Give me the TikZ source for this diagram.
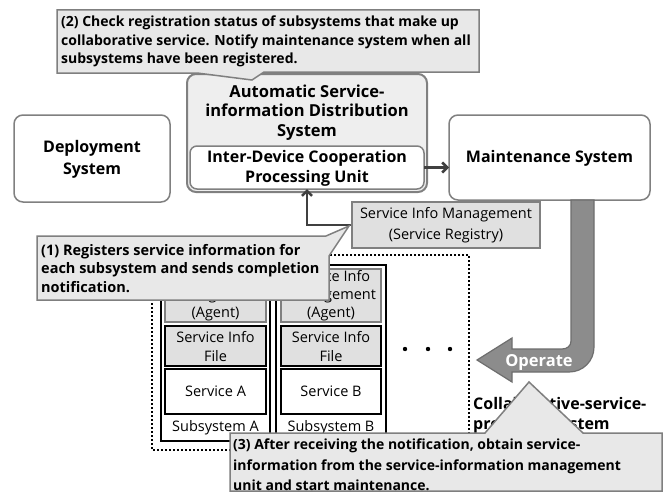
\documentclass[tikz,border=0pt]{standalone}
\usepackage{fontspec}
\setmainfont{Open Sans}
\usetikzlibrary{arrows.meta}
\definecolor{callfill}{HTML}{E8E8E8}
\definecolor{callline}{HTML}{7F7F7F}
\definecolor{boxline}{HTML}{808080}
\definecolor{grayfill}{HTML}{E0E0E0}
\definecolor{asfill}{HTML}{EEEEEE}
\definecolor{darkarrow}{HTML}{404040}
\definecolor{opfill}{HTML}{8C8C8C}
\definecolor{opline}{HTML}{6E6E6E}
\newcommand{\bsz}[2]{\fontsize{#1}{#2}\selectfont\bfseries}
\newcommand{\nsz}[2]{\fontsize{#1}{#2}\selectfont}
\tikzset{
  sysbox/.style={draw=boxline, line width=1.5pt, rounded corners=9pt, fill=white},
  callout/.style={draw=callline, line width=1.5pt, fill=callfill},
  plain/.style={inner sep=0pt, align=center},
  agentbox/.style={draw=boxline, line width=1.5pt, fill=grayfill},
  filebox/.style={draw=black, line width=2pt, fill=grayfill},
  svcbox/.style={draw=black, line width=2pt, fill=white},
  subbox/.style={draw=black, line width=1.6pt, fill=white},
  conn/.style={draw=darkarrow, line width=2.5pt, -{Straight Barb[length=5pt,width=10pt]}},
}
\begin{document}
\begin{tikzpicture}[x=1pt,y=-1pt]
\useasboundingbox (0,0) rectangle (671,495);
\fill[white] (0,0) rectangle (671,495);

% Deployment system
\draw[sysbox] (14,115) rectangle (170,202);
\node[plain, font=\bsz{16}{22}] (deploy) at (92,159) {Deployment\\System};

% Maintenance system
\draw[sysbox] (449,115) rectangle (650,200);
\node[plain, font=\bsz{16}{22}] (maint) at (549.5,158) {Maintenance System};
\coordinate (maintW) at (449,168);

% Automatic Service-information Distribution System
\draw[draw=boxline, line width=2pt, rounded corners=9pt, fill=asfill] (187,74) rectangle (427,192);
\node[plain, font=\bsz{16.5}{19.5}] (asids) at (307,112.5) {Automatic Service-\\information Distribution\\System};
\draw[draw=boxline, line width=1.5pt, rounded corners=7pt, fill=white] (190,146) rectangle (424,189);
\node[plain, minimum width=234pt, minimum height=43pt] (ipu) at (307,167.5) {};
\node[plain, font=\bsz{16}{20}] (ipulabel) at (307,168) {Inter-Device Cooperation\\Processing Unit};

% Service Info Management (Service Registry)
\node[draw=boxline, line width=1.5pt, fill=grayfill, minimum width=188pt, minimum height=46pt, inner sep=0pt, align=center, font=\nsz{14.5}{21}] (sim) at (446,225) {Service Info Management\\(Service Registry)};

% connectors
\draw[conn] (ipu.east) -- (ipu.east -| maintW);
\draw[conn] (sim.west) -| (ipu.south);

% Collaborative-service-providing system (dotted)
\draw[black, line width=2pt, dash pattern=on 2pt off 2pt] (152,255) rectangle (469,450);
\node[plain, align=left, anchor=west, font=\bsz{16}{20}] (collab) at (473,415) {Collaborative-service-\\providing system};

% Subsystem A
\draw[subbox] (161,265) rectangle (270,441);
\draw[agentbox] (165,269) rectangle (266,322);
\node[plain, font=\nsz{14.5}{18}] (agentA) at (215.5,296) {Service Info\\Management\\(Agent)};
\draw[filebox] (165,326) rectangle (266,366);
\node[plain, font=\nsz{14.5}{19}] (fileA) at (215.5,346.5) {Service Info\\File};
\draw[svcbox] (165,369) rectangle (266,414);
\node[plain, font=\nsz{14.5}{19}] (svcA) at (215.5,391.5) {Service A};
\node[plain, font=\nsz{14.5}{19}] (subA) at (215.5,428) {Subsystem A};

% Subsystem B
\draw[subbox] (276,265) rectangle (386,441);
\draw[agentbox] (281,269) rectangle (381,322);
\node[plain, font=\nsz{14.5}{18}] (agentB) at (331,296) {Service Info\\Management\\(Agent)};
\draw[filebox] (281,326) rectangle (381,366);
\node[plain, font=\nsz{14.5}{19}] (fileB) at (331,346.5) {Service Info\\File};
\draw[svcbox] (281,369) rectangle (381,414);
\node[plain, font=\nsz{14.5}{19}] (svcB) at (331,391.5) {Service B};
\node[plain, font=\nsz{14.5}{19}] (subB) at (331,428) {Subsystem B};

% dots
\fill[black] (405,349) circle (2.2pt) (428,349) circle (2.2pt) (450,349) circle (2.2pt);

% Operate arrow
\draw[draw=opline, line width=1.2pt, fill=opfill]
  (571,200) -- (571,341) .. controls (571,346) and (567,349) .. (562,349)
  -- (512,349) -- (512,338) -- (477,360) -- (512,382) -- (512,372) -- (569,372)
  .. controls (583,372) and (594,361) .. (594,347) -- (594,200) -- cycle;
\node[plain, font=\bsz{16.5}{19}, text=white] (operate) at (539,362) {Operate};

% Callout (2)
\draw[callout] (57,10) -- (479,10) -- (479,72) -- (264,72) -- (252,80) -- (197,73) -- (57,73) -- cycle;
\node[plain, align=left, anchor=west, font=\bsz{14}{18.5}] (c2) at (61,41.5) {(2) Check registration status of subsystems that make up\\collaborative service. Notify maintenance system when all\\subsystems have been registered.};

% Callout (1)
\draw[callout] (37,236) -- (326,236) -- (349,226) -- (329,256) -- (329,300) -- (37,300) -- cycle;
\node[plain, align=left, anchor=west, font=\bsz{14.5}{18.5}] (c1) at (41,268.5) {(1) Registers service information for\\each subsystem and sends completion\\notification.};

% Callout (3)
\draw[callout] (230,433) -- (485,433) -- (529,382) -- (583,433) -- (662,433) -- (662,491) -- (230,491) -- cycle;
\node[plain, align=left, anchor=west, font=\bsz{14}{20.5}] (c3) at (233,465) {(3) After receiving the notification, obtain service-\\information from the service-information management\\unit and start maintenance.};
\end{tikzpicture}
\end{document}
